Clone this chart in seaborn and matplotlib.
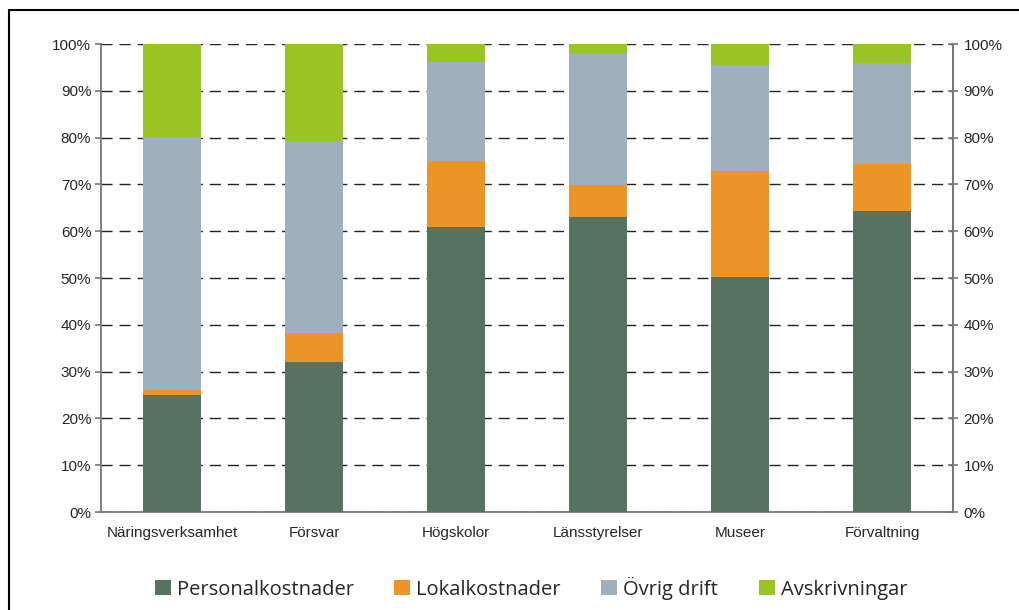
import matplotlib

matplotlib.use("Agg")
import matplotlib.pyplot as plt
from matplotlib.lines import Line2D
from matplotlib.patches import Patch
import numpy as np
import pandas as pd
import seaborn as sns

# data (share of total, %)
categories = ["Näringsverksamhet", "Försvar", "Högskolor", "Länsstyrelser", "Museer", "Förvaltning"]
personal = [25.0, 32.0, 61.0, 63.0, 50.3, 64.4]
lokal = [1.1, 6.2, 14.0, 6.9, 22.6, 10.0]
ovrig = [54.0, 41.1, 21.2, 28.2, 22.6, 21.5]
avskr = [19.9, 20.7, 3.8, 1.9, 4.5, 4.1]

series = ["Personalkostnader", "Lokalkostnader", "Övrig drift", "Avskrivningar"]
colors = ["#557360", "#EB9427", "#9EB0BD", "#99C424"]

df = pd.DataFrame({"Kategori": categories, series[0]: personal, series[1]: lokal,
                   series[2]: ovrig, series[3]: avskr})
cum = df[series].cumsum(axis=1)

sns.set_style("white")
plt.rcParams["font.family"] = ["Liberation Sans", "DejaVu Sans"]

fig = plt.figure(figsize=(10.19, 6.1), dpi=100)
ax = fig.add_axes([101 / 1019, 98 / 610, 852 / 1019, 468 / 610])

# stacked bars: draw the cumulative tops from the tallest down
for name, col in reversed(list(zip(series, colors))):
    sns.barplot(x=df["Kategori"], y=cum[name], color=col, width=0.41,
                saturation=1, linewidth=0, edgecolor="none", ax=ax, zorder=3)

ax.set_ylim(0, 100)
ax.set_xlim(-0.5, 5.5)
yt = np.arange(0, 101, 10)
ax.set_yticks(yt)
ax.set_yticklabels([f"{v}%" for v in yt])
ax.set_xlabel("")
ax.set_ylabel("")

# category ticks between bars, labels at bar centres
ax.set_xticks(np.arange(-0.5, 6, 1))
ax.set_xticklabels([""] * 7)
ax.set_xticks(np.arange(6), minor=True)
ax.set_xticklabels(categories, minor=True)
ax.tick_params(axis="x", which="minor", length=0, pad=10, labelsize=11)
ax.tick_params(axis="x", which="major", direction="out", length=4, width=1.2, color="#777777")
ax.tick_params(axis="y", direction="out", length=4, width=1.2, color="#777777",
               labelsize=11, pad=3)

ax.yaxis.grid(True, color="#222222", linewidth=1.0, linestyle=(0, (8, 5)))
ax.set_axisbelow(True)
ax.spines["top"].set_visible(False)
for s in ["left", "bottom", "right"]:
    ax.spines[s].set_color("#777777")
    ax.spines[s].set_linewidth(1.3)

ax2 = ax.twinx()
ax2.set_ylim(0, 100)
ax2.set_yticks(yt)
ax2.set_yticklabels([f"{v}%" for v in yt])
ax2.tick_params(axis="y", direction="inout", length=7, width=1.2, color="#777777",
                labelsize=11, pad=4)
for s in ["top", "left", "bottom"]:
    ax2.spines[s].set_visible(False)
ax2.spines["right"].set_color("#777777")
ax2.spines["right"].set_linewidth(1.3)

handles = [Patch(facecolor=c, edgecolor="none", label=n) for n, c in zip(series, colors)]
fig.legend(handles=handles, loc="center", bbox_to_anchor=(531 / 1019, 1 - 588 / 610),
           ncol=4, frameon=False, handlelength=0.8, handleheight=0.8, handletextpad=0.3,
           columnspacing=2.0, prop={"family": "Open Sans", "size": 14.5})

# outer frame (top and left edges)
fig.add_artist(Line2D([9 / 1019, 1.0], [1 - 10 / 610, 1 - 10 / 610], color="black", lw=1.5))
fig.add_artist(Line2D([9 / 1019, 9 / 1019], [0, 1 - 10 / 610], color="black", lw=1.5))

fig.savefig("out.png", dpi=100)
